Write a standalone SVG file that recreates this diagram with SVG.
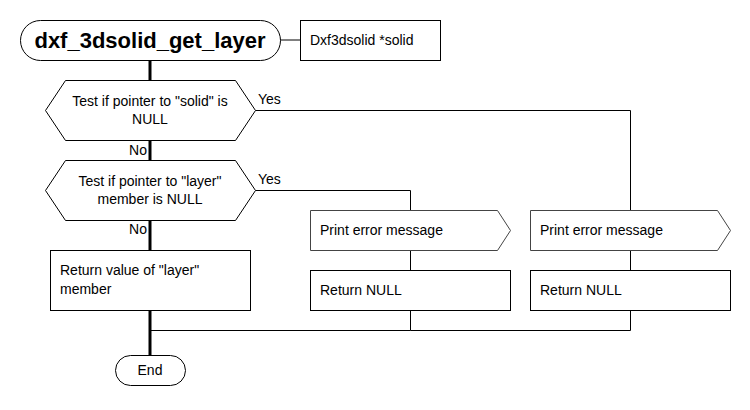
<svg xmlns="http://www.w3.org/2000/svg" width="750" height="410" viewBox="0 0 750 410">
<style>
text{font-family:"Liberation Sans",Arial,sans-serif;font-size:14px;fill:#000}
.shape{fill:#fff;stroke:#000;stroke-width:1}
.pent{fill:#fff;stroke:#444;stroke-width:1}
.thick{stroke:#000;stroke-width:3;fill:none}
.thin{stroke:#000;stroke-width:1;fill:none}
.c{text-anchor:middle}
</style>
<rect width="750" height="410" fill="#fff"/>
<g id="connectors">
<line class="thick" x1="150" y1="60" x2="150" y2="80"/>
<line class="thick" x1="150" y1="140" x2="150" y2="160"/>
<line class="thick" x1="150" y1="220" x2="150" y2="250"/>
<line class="thick" x1="150" y1="310" x2="150" y2="355"/>
<line class="thin" x1="280" y1="40" x2="300" y2="40"/>
<polyline class="thin" points="255.5,110.5 630.5,110.5 630.5,210"/>
<polyline class="thin" points="255.5,190.5 410.5,190.5 410.5,210"/>
<line class="thin" x1="410.5" y1="250" x2="410.5" y2="270"/>
<line class="thin" x1="630.5" y1="250" x2="630.5" y2="270"/>
<polyline class="thin" points="410.5,310 410.5,330.5 150,330.5"/>
<polyline class="thin" points="630.5,310 630.5,330.5 410.5,330.5"/>
<text x="258" y="104">Yes</text>
<text x="258" y="184">Yes</text>
<text x="147" y="155" text-anchor="end">No</text>
<text x="147" y="234" text-anchor="end">No</text>
</g>
<g id="start">
<rect class="shape" x="20.5" y="20.5" width="260" height="40" rx="20" ry="20"/>
<text x="150" y="47.5" class="c" style="font-size:22px;font-weight:bold">dxf_3dsolid_get_layer</text>
</g>
<g id="param">
<rect class="shape" x="300.5" y="20.5" width="140" height="40"/>
<text x="310" y="45">Dxf3dsolid *solid</text>
</g>
<g id="test1">
<polygon class="shape" points="45.5,110.5 65.5,80.5 235.5,80.5 255.5,110.5 235.5,140.5 65.5,140.5"/>
<text x="150" y="106" class="c">Test if pointer to "solid" is</text>
<text x="150" y="124" class="c">NULL</text>
</g>
<g id="test2">
<polygon class="shape" points="45.5,190.5 65.5,160.5 235.5,160.5 255.5,190.5 235.5,220.5 65.5,220.5"/>
<text x="150" y="186" class="c">Test if pointer to "layer"</text>
<text x="150" y="204" class="c">member is NULL</text>
</g>
<g id="returnLayer">
<rect class="shape" x="50.5" y="250.5" width="200" height="60"/>
<text x="60" y="275">Return value of "layer"</text>
<text x="60" y="294">member</text>
</g>
<g id="print1">
<polygon class="pent" points="310.5,210.5 497.5,210.5 510.5,230.5 497.5,250.5 310.5,250.5"/>
<text x="320" y="235">Print error message</text>
</g>
<g id="return1">
<rect class="shape" x="310.5" y="270.5" width="200" height="40"/>
<text x="320" y="295">Return NULL</text>
</g>
<g id="print2">
<polygon class="pent" points="530.5,210.5 717.5,210.5 730.5,230.5 717.5,250.5 530.5,250.5"/>
<text x="540" y="235">Print error message</text>
</g>
<g id="return2">
<rect class="shape" x="530.5" y="270.5" width="200" height="40"/>
<text x="540" y="295">Return NULL</text>
</g>
<g id="end">
<rect class="shape" x="115.5" y="355.5" width="70" height="30" rx="15" ry="15"/>
<text x="150" y="375" class="c">End</text>
</g>
</svg>
